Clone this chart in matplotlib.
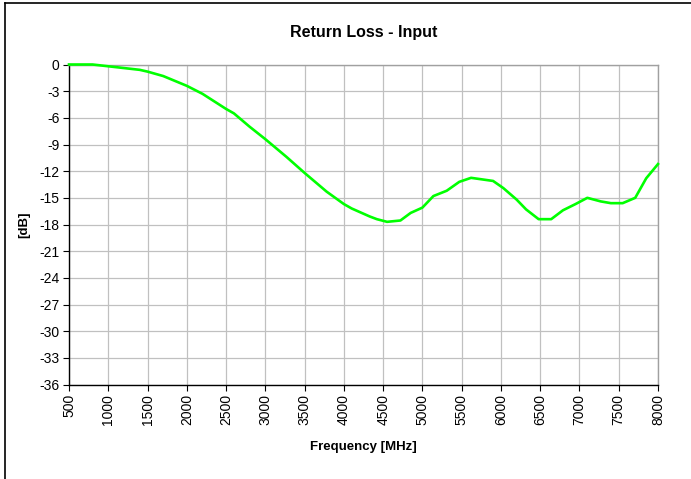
import matplotlib
matplotlib.use('Agg')
from matplotlib import pyplot as plt
from matplotlib.lines import Line2D

# frequency in MHz and return loss in dB
freq = [500, 800, 1000, 1400, 1500, 1700, 2000, 2200, 2500, 2600, 2800, 3000,
        3270, 3500, 3780, 4000, 4100, 4330, 4420, 4550, 4720, 4850, 5000, 5140,
        5310, 5470, 5620, 5900, 6030, 6200, 6320, 6480, 6640, 6790, 6950, 7100,
        7270, 7400, 7550, 7710, 7850, 8000]
loss = [0.0, 0.0, -0.2, -0.6, -0.8, -1.3, -2.4, -3.3, -5.0, -5.5, -7.0, -8.4,
        -10.4, -12.2, -14.3, -15.7, -16.2, -17.1, -17.4, -17.7, -17.55, -16.7, -16.1, -14.8,
        -14.2, -13.2, -12.75, -13.1, -13.9, -15.2, -16.3, -17.4, -17.4, -16.4, -15.7, -15.0,
        -15.4, -15.6, -15.6, -15.0, -12.8, -11.2]

x_ticks = list(range(500, 8001, 500))
y_ticks = list(range(-36, 1, 3))

plt.rcParams['font.family'] = ['Liberation Sans', 'DejaVu Sans']

W, H = 691, 479
fig = plt.figure(figsize=(W / 100, H / 100), dpi=100)
ax = fig.add_axes([69 / W, (H - 384.5) / H, 589 / W, 320 / H])

ax.plot(freq, loss, color='#00ff00', linewidth=1.9, solid_joinstyle='round',
        clip_on=False, zorder=5)

ax.set_xlim(500, 8000)
ax.set_ylim(-36, 0)
ax.set_xticks(x_ticks)
ax.set_yticks(y_ticks)
ax.set_xticklabels([str(t) for t in x_ticks], rotation=90, fontsize=10)
ax.set_yticklabels([str(t) for t in y_ticks], fontsize=10)
ax.grid(True, color='#c0c0c0', linewidth=0.9)
ax.set_axisbelow(True)
ax.tick_params(direction='out', length=4, width=0.8, color='black', pad=3)

for side in ('top', 'right'):
    ax.spines[side].set_color('#a0a0a0')
    ax.spines[side].set_linewidth(1.0)
for side in ('left', 'bottom'):
    ax.spines[side].set_color('black')
    ax.spines[side].set_linewidth(1.0)

ax.set_title('Return Loss - Input', fontsize=11.5, fontweight='bold', pad=20)
ax.set_xlabel('Frequency [MHz]', fontsize=9.5, fontweight='bold', labelpad=11)
ax.set_ylabel('[dB]', fontsize=9.5, fontweight='bold', labelpad=6)

# chart area border
fig.add_artist(Line2D([5.5 / W, 5.5 / W], [0, (H - 3) / H], color='black', linewidth=1.2,
                      transform=fig.transFigure))
fig.add_artist(Line2D([5.5 / W, 1], [(H - 3) / H, (H - 3) / H], color='black', linewidth=1.2,
                      transform=fig.transFigure))

fig.savefig('out.png', dpi=100)
